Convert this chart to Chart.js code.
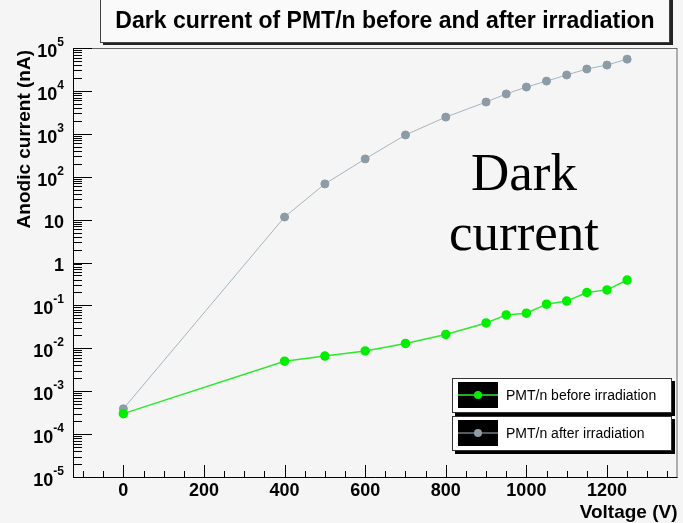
<!DOCTYPE html>
<html>
<head>
<meta charset="utf-8">
<script src="https://cdn.jsdelivr.net/npm/chart.js@4.4.1/dist/chart.umd.min.js"></script>
<style>
    html, body { margin: 0; padding: 0; background: #f5f5f5; }
    canvas { display: block; }
</style>
</head>
<body>
<canvas id="myChart" width="683" height="523"></canvas>
<script>
// values
const voltages = [0, 400, 500, 600, 700, 800, 900, 950, 1000, 1050, 1100, 1150, 1200, 1250];
const currentBefore = [3.0e-4, 5.0e-3, 6.6e-3, 8.7e-3, 1.3e-2, 2.1e-2, 3.9e-2, 6.0e-2, 6.6e-2, 0.107, 0.126, 0.20, 0.23, 0.39];
const currentAfter = [3.9e-4, 11.5, 68, 260, 940, 2450, 5500, 8500, 12300, 16900, 23500, 32400, 40000, 55000];
const seriesLabels = ["PMT/n before irradiation", "PMT/n after irradiation"];
const xTickValues = [0, 200, 400, 600, 800, 1000, 1200];
const yDecades = [-5, -4, -3, -2, -1, 0, 1, 2, 3, 4, 5];
const chartTitle = "Dark current of PMT/n before and after irradiation";
const xTitle = "Voltage (V)";
const yTitle = "Anodic current (nA)";
const noteLines = ["Dark", "current"];

const sans = "'Liberation Sans', Arial, sans-serif";

function toPoints(ys) {
    return voltages.map((v, i) => ({ x: v, y: ys[i] }));
}

const decorations = {
    id: "decorations",
    beforeDraw(chart) {
        const ctx = chart.ctx;
        ctx.save();
        ctx.fillStyle = "#f5f5f5";
        ctx.fillRect(0, 0, chart.width, chart.height);
        ctx.restore();
    },
    afterDraw(chart) {
        const ctx = chart.ctx;
        const area = chart.chartArea;
        const xs = chart.scales.x;
        const ys = chart.scales.y;
        ctx.save();

        // frame
        ctx.strokeStyle = "#666";
        ctx.lineWidth = 1;
        ctx.strokeRect(area.left + 0.5, area.top + 0.5, area.right - area.left - 1, area.bottom - area.top);
        ctx.strokeStyle = "#000";
        ctx.beginPath();
        ctx.moveTo(area.left + 0.5, area.top);
        ctx.lineTo(area.left + 0.5, area.bottom + 0.5);
        ctx.lineTo(area.right, area.bottom + 0.5);
        ctx.stroke();

        // x ticks (inside)
        ctx.beginPath();
        for (let v = -100; v <= 1350; v += 50) {
            const px = Math.round(xs.getPixelForValue(v)) + 0.5;
            const len = v % 200 === 0 ? 12 : 6;
            ctx.moveTo(px, area.bottom);
            ctx.lineTo(px, area.bottom - len);
        }
        // y ticks (inside)
        yDecades.forEach(d => {
            const base = Math.pow(10, d);
            const py = Math.round(ys.getPixelForValue(base)) + 0.5;
            ctx.moveTo(area.left, py);
            ctx.lineTo(area.left + 19, py);
            if (d < 5) {
                for (let m = 2; m <= 9; m++) {
                    const my = Math.round(ys.getPixelForValue(m * base)) + 0.5;
                    ctx.moveTo(area.left, my);
                    ctx.lineTo(area.left + 9, my);
                }
            }
        });
        ctx.stroke();

        // x tick labels
        ctx.fillStyle = "#000";
        ctx.font = "bold 18px " + sans;
        ctx.textAlign = "center";
        ctx.textBaseline = "middle";
        xTickValues.forEach(v => {
            ctx.fillText(String(v), xs.getPixelForValue(v), 491);
        });

        // y tick labels
        const labelRight = 64;
        yDecades.forEach(d => {
            const py = ys.getPixelForValue(Math.pow(10, d));
            ctx.textBaseline = "alphabetic";
            ctx.textAlign = "left";
            if (d === 0 || d === 1) {
                ctx.font = "bold 18px " + sans;
                const t = d === 0 ? "1" : "10";
                const w = ctx.measureText(t).width;
                ctx.fillText(t, labelRight - w, py + 8);
            } else {
                ctx.font = "bold 12px " + sans;
                const sup = String(d);
                const ws = ctx.measureText(sup).width;
                ctx.font = "bold 18px " + sans;
                const wb = ctx.measureText("10").width;
                const x0 = labelRight - ws - wb;
                ctx.fillText("10", x0, py + 9);
                ctx.font = "bold 12px " + sans;
                ctx.fillText(sup, x0 + wb, py - 2);
            }
        });

        // axis titles
        ctx.font = "bold 19px " + sans;
        ctx.textAlign = "right";
        ctx.textBaseline = "alphabetic";
        ctx.fillText(xTitle, area.right, 518);
        ctx.save();
        ctx.translate(30, 50);
        ctx.rotate(-Math.PI / 2);
        ctx.textAlign = "right";
        ctx.fillText(yTitle, 0, 0);
        ctx.restore();

        // title box
        ctx.fillStyle = "#222";
        ctx.fillRect(103, 0, 570, 45);
        ctx.fillStyle = "#fafafa";
        ctx.fillRect(100, -3, 570, 45);
        ctx.strokeStyle = "#444";
        ctx.strokeRect(100.5, -3, 569, 45.5);
        ctx.fillStyle = "#000";
        ctx.font = "bold 23px " + sans;
        ctx.textAlign = "center";
        ctx.textBaseline = "middle";
        ctx.fillText(chartTitle, 385, 22);

        // note text
        ctx.font = "53px 'Liberation Serif', 'Times New Roman', serif";
        ctx.textAlign = "center";
        ctx.textBaseline = "alphabetic";
        ctx.fillText(noteLines[0], 524, 190);
        ctx.fillText(noteLines[1], 524, 250);

        // legend boxes
        chart.data.datasets.forEach((ds, i) => {
            const top = 378 + i * 38;
            ctx.fillStyle = "#000";
            ctx.fillRect(455, top + 3, 220, 35);
            ctx.fillStyle = "#fff";
            ctx.fillRect(452, top, 220, 35);
            ctx.strokeStyle = "#333";
            ctx.lineWidth = 1;
            ctx.strokeRect(452.5, top + 0.5, 219, 34);
            ctx.fillStyle = "#000";
            ctx.fillRect(458, top + 4, 40, 26);
            const cy = top + 17;
            ctx.strokeStyle = ds.borderColor;
            ctx.lineWidth = ds.borderWidth;
            ctx.beginPath();
            ctx.moveTo(458, cy);
            ctx.lineTo(498, cy);
            ctx.stroke();
            ctx.fillStyle = ds.pointBackgroundColor;
            ctx.beginPath();
            ctx.arc(478, cy, 4, 0, Math.PI * 2);
            ctx.fill();
            ctx.fillStyle = "#000";
            ctx.font = "14px " + sans;
            ctx.textAlign = "left";
            ctx.textBaseline = "middle";
            ctx.fillText(ds.label, 506, cy + 1);
        });

        ctx.restore();
    }
};

const ctx = document.getElementById("myChart").getContext("2d");
const chart = new Chart(ctx, {
    type: "line",
    data: {
        datasets: [
            {
                label: seriesLabels[0],
                data: toPoints(currentBefore),
                borderColor: "#2ee82e",
                borderWidth: 1.5,
                pointBackgroundColor: "#00ee00",
                pointBorderColor: "#00ee00",
                pointRadius: 4,
                tension: 0
            },
            {
                label: seriesLabels[1],
                data: toPoints(currentAfter),
                borderColor: "#a6b6bf",
                borderWidth: 1,
                pointBackgroundColor: "#8b9ca7",
                pointBorderColor: "#8b9ca7",
                pointRadius: 4,
                tension: 0
            }
        ]
    },
    options: {
        responsive: false,
        animation: false,
        layout: { padding: { top: 48, right: 2, left: 0, bottom: 0 } },
        plugins: {
            legend: { display: false },
            title: { display: false },
            tooltip: { enabled: false }
        },
        scales: {
            x: {
                type: "linear",
                min: -125,
                max: 1375,
                grid: { display: false },
                border: { display: false },
                ticks: { display: false },
                afterFit: s => { s.height = 46; }
            },
            y: {
                type: "logarithmic",
                min: 1e-5,
                max: 1e5,
                grid: { display: false },
                border: { display: false },
                ticks: { display: false },
                afterFit: s => { s.width = 73; }
            }
        }
    },
    plugins: [decorations]
});
</script>
</body>
</html>
